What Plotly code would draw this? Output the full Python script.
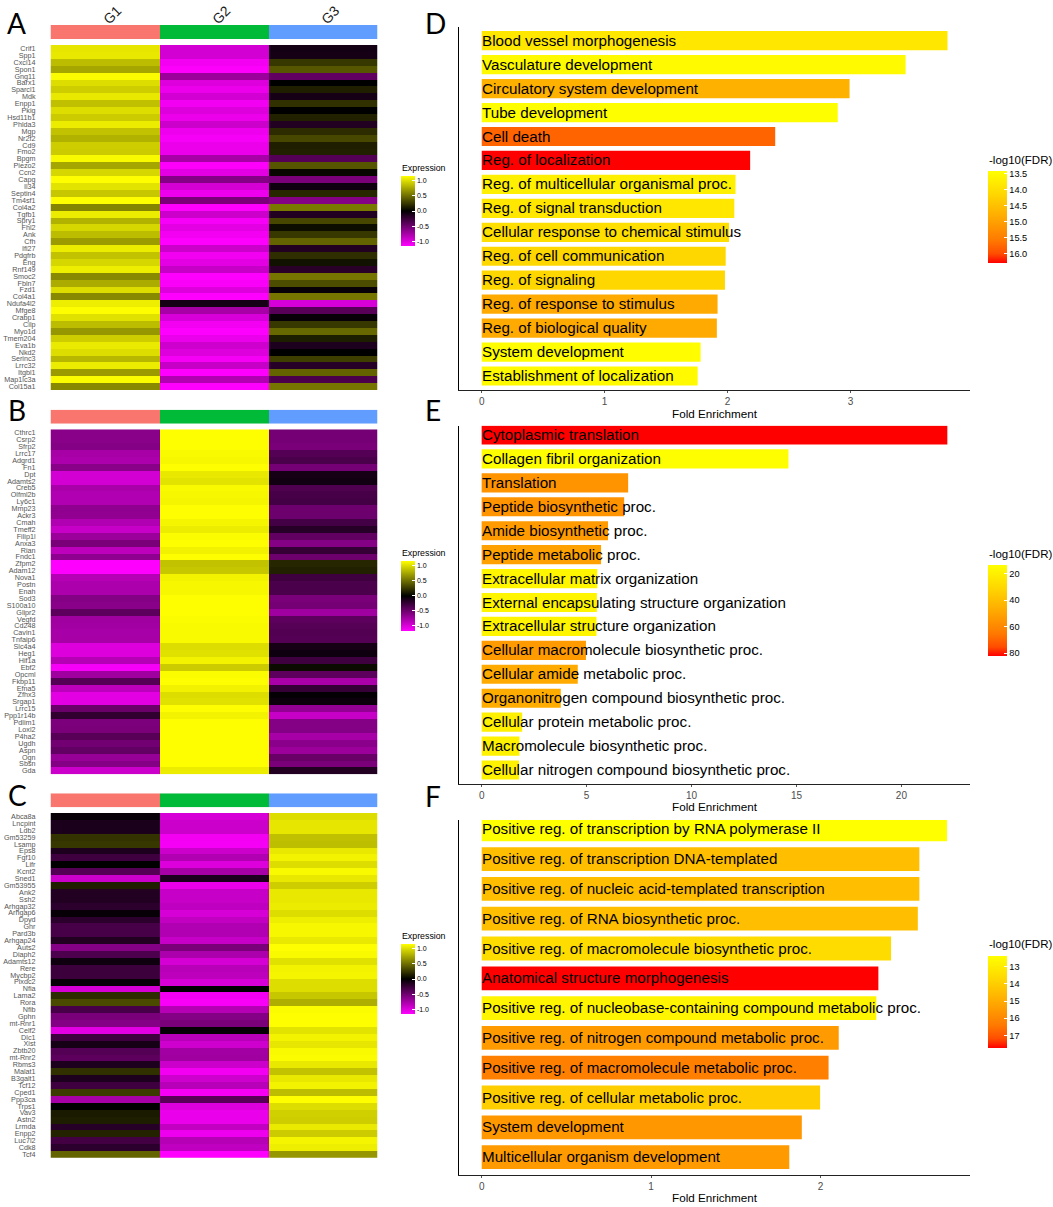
import plotly.graph_objects as go

W = 1053
H = 1207

GROUPS = ["G1", "G2", "G3"]

# --- heatmap A ---
genes_a = ["Crif1", "Spp1", "Cxcl14", "Spon1", "Gng11", "Barx1", "Sparcl1", "Mdk", "Enpp1", "Pkig",
           "Hsd11b1", "Phlda3", "Mgp", "Nr2f2", "Cd9", "Fmo2", "Bpgm", "Piezo2", "Ccn2", "Capg",
           "Il34", "Septin4", "Tm4sf1", "Col4a2", "Tgfb1", "Spry1", "Fhl2", "Ank", "Cfh", "Ifi27",
           "Pdgfrb", "Eng", "Rnf149", "Smoc2", "Fbln7", "Fzd1", "Col4a1", "Ndufa4l2", "Mfge8", "Crabp1",
           "Cilp", "Myo1d", "Tmem204", "Eva1b", "Nkd2", "Serinc3", "Lrrc32", "Itgbl1", "Map1lc3a", "Col15a1"]
a_g1 = [1.04, 1.05, 0.85, 0.75, 1.14, 1.0, 0.93, 1.05, 0.87, 1.0,
        0.92, 1.07, 0.88, 0.8, 0.93, 0.92, 1.13, 0.75, 0.97, 1.15,
        1.03, 0.9, 1.15, 0.6, 1.07, 0.8, 0.97, 0.85, 0.7, 1.07,
        0.88, 0.97, 1.08, 0.62, 0.78, 1.0, 0.62, 1.08, 1.15, 1.02,
        0.85, 0.68, 0.93, 1.06, 1.0, 0.83, 1.07, 0.7, 1.14, 0.62]
a_g2 = [-0.95, -0.95, -1.1, -1.14, -0.7, -1.0, -1.07, -0.95, -1.09, -1.0,
        -1.07, -0.92, -1.08, -1.12, -1.07, -1.07, -0.75, -1.14, -1.03, -0.6,
        -0.96, -1.08, -0.55, -1.15, -0.92, -1.12, -1.03, -1.1, -1.15, -0.92,
        -1.09, -1.03, -0.9, -1.15, -1.13, -1.0, -1.15, -0.1, -0.75, -0.98,
        -1.1, -1.15, -1.06, -0.93, -1.0, -1.11, -0.9, -1.15, -0.8, -1.15]
a_g3 = [-0.09, -0.1, 0.25, 0.39, -0.44, 0.0, 0.14, -0.1, 0.22, 0.0,
        0.15, -0.15, 0.2, 0.32, 0.14, 0.15, -0.38, 0.39, 0.03, -0.55,
        -0.07, 0.18, -0.6, 0.55, -0.15, 0.32, 0.06, 0.25, 0.45, -0.15,
        0.21, 0.08, -0.18, 0.53, 0.35, -0.03, 0.53, -0.98, -0.4, -0.03,
        0.25, 0.47, 0.13, -0.13, 0.0, 0.28, -0.17, 0.45, -0.34, 0.53]

# --- heatmap B ---
genes_b = ["Cthrc1", "Csrp2", "Sfrp2", "Lrrc17", "Adgrd1", "Fn1", "Dpt", "Adamts2", "Creb5", "Olfml2b",
           "Ly6c1", "Mmp23", "Ackr3", "Cmah", "Tmeff2", "Filip1l", "Anxa3", "Rian", "Fndc1", "Zfpm2",
           "Adam12", "Nova1", "Postn", "Enah", "Sod3", "S100a10", "Glipr2", "Vegfd", "Cd248", "Cavin1",
           "Tnfaip6", "Slc4a4", "Heg1", "Hif1a", "Ebf2", "Opcml", "Fkbp11", "Efna5", "Zfhx3", "Srgap1",
           "Lrrc15", "Ppp1r14b", "Pdlim1", "Loxl2", "P4ha2", "Ugdh", "Aspn", "Ogn", "Sbsn", "Gda"]
b_g1 = [-0.62, -0.62, -0.6, -0.75, -0.78, -0.62, -0.95, -0.95, -0.77, -0.8,
        -0.8, -0.65, -0.66, -0.8, -0.9, -0.7, -0.55, -0.85, -0.65, -1.15,
        -1.15, -0.82, -0.78, -0.78, -0.6, -0.62, -0.42, -0.72, -0.74, -0.76,
        -0.75, -1.0, -1.0, -0.82, -1.12, -0.72, -0.38, -0.85, -1.03, -1.03,
        -0.48, -0.22, -0.56, -0.55, -0.4, -0.52, -0.45, -0.68, -0.6, -0.92]
b_g2 = [1.15, 1.15, 1.15, 1.13, 1.12, 1.15, 1.05, 1.03, 1.13, 1.12,
        1.11, 1.15, 1.15, 1.11, 1.07, 1.14, 1.15, 1.09, 1.15, 0.88,
        0.9, 1.1, 1.12, 1.12, 1.15, 1.15, 1.15, 1.14, 1.13, 1.13,
        1.13, 1.0, 1.02, 1.1, 0.92, 1.14, 1.15, 1.09, 1.0, 1.02,
        1.15, 1.1, 1.15, 1.15, 1.15, 1.15, 1.15, 1.15, 1.15, 1.07]
b_g3 = [-0.53, -0.53, -0.55, -0.38, -0.34, -0.53, -0.1, -0.08, -0.36, -0.32,
        -0.31, -0.5, -0.49, -0.31, -0.17, -0.44, -0.6, -0.24, -0.5, 0.17,
        0.15, -0.28, -0.34, -0.34, -0.55, -0.53, -0.72, -0.42, -0.39, -0.37,
        -0.38, -0.1, -0.07, -0.28, 0.05, -0.42, -0.77, -0.24, -0.02, -0.05,
        -0.67, -0.9, -0.6, -0.6, -0.75, -0.63, -0.7, -0.47, -0.55, -0.15]

# --- heatmap C ---
genes_c = ["Abca8a", "Lncpint", "Ldb2", "Gm53259", "Lsamp", "Eps8", "Fgf10", "Lifr", "Kcnt2", "Sned1",
           "Gm53955", "Ank2", "Ssh2", "Arhgap32", "Arhgap6", "Dpyd", "Ghr", "Pard3b", "Arhgap24", "Auts2",
           "Diaph2", "Adamts12", "Rere", "Mycbp2", "Plxdc2", "Nfia", "Lama2", "Rora", "Nfib", "Gphn",
           "mt-Rnr1", "Celf2", "Dlc1", "Xist", "Zbtb20", "mt-Rnr2", "Rbms3", "Malat1", "B3galt1", "Tcf12",
           "Cped1", "Ppp3ca", "Trps1", "Vav3", "Astn2", "Lrmda", "Enpp2", "Luc7l2", "Cdk8", "Tcf4"]
c_g1 = [-0.03, -0.12, -0.12, 0.23, 0.25, -0.13, -0.28, 0.0, -0.38, -0.92,
        0.14, -0.15, -0.15, -0.2, -0.03, -0.2, -0.32, -0.32, -0.15, -0.6,
        -0.35, -0.07, -0.27, -0.27, -0.03, -0.97, 0.2, 0.34, -0.32, -0.55,
        -0.6, -1.03, -0.28, -0.1, -0.38, -0.42, -0.13, 0.22, -0.13, -0.28,
        0.27, -0.75, 0.0, 0.12, 0.13, -0.17, 0.16, -0.3, -0.2, 0.45]
c_g2 = [-0.97, -0.92, -0.92, -1.1, -1.11, -0.92, -0.8, -1.0, -0.75, -0.13,
        -1.07, -0.9, -0.9, -0.87, -0.97, -0.88, -0.8, -0.8, -0.9, -0.55,
        -0.78, -0.96, -0.84, -0.85, -0.97, 0.0, -1.1, -1.13, -0.82, -0.6,
        -0.55, -0.02, -0.84, -0.93, -0.74, -0.72, -0.92, -1.1, -0.93, -0.84,
        -1.11, -0.4, -1.0, -1.06, -1.06, -0.88, -1.08, -0.82, -0.87, -1.15]
c_g3 = [1.0, 1.04, 1.04, 0.87, 0.86, 1.05, 1.1, 1.0, 1.13, 1.05,
        0.93, 1.05, 1.05, 1.07, 1.0, 1.08, 1.12, 1.12, 1.05, 1.15,
        1.13, 1.02, 1.1, 1.11, 1.0, 1.0, 0.9, 0.79, 1.14, 1.15,
        1.15, 1.03, 1.1, 1.04, 1.13, 1.14, 1.05, 0.88, 1.05, 1.1,
        0.85, 1.15, 1.0, 0.94, 0.93, 1.06, 0.92, 1.11, 1.08, 0.68]

# --- enrichment D ---
terms_d = ["Blood vessel morphogenesis", "Vasculature development", "Circulatory system development",
           "Tube development", "Cell death", "Reg. of localization", "Reg. of multicellular organismal proc.",
           "Reg. of signal transduction", "Cellular response to chemical stimulus", "Reg. of cell communication",
           "Reg. of signaling", "Reg. of response to stimulus", "Reg. of biological quality",
           "System development", "Establishment of localization"]
fold_d = [3.79, 3.449, 2.993, 2.897, 2.388, 2.184, 2.065, 2.055, 2.012, 1.985, 1.979, 1.919, 1.913, 1.781, 1.757]
fdr_d = [13.84, 13.5, 14.73, 13.42, 15.77, 16.28, 13.7, 13.84, 13.98, 14.13, 14.12, 14.85, 14.85, 13.45, 13.5]

# --- enrichment E ---
terms_e = ["Cytoplasmic translation", "Collagen fibril organization", "Translation", "Peptide biosynthetic proc.",
           "Amide biosynthetic proc.", "Peptide metabolic proc.", "Extracellular matrix organization",
           "External encapsulating structure organization", "Extracellular structure organization",
           "Cellular macromolecule biosynthetic proc.", "Cellular amide metabolic proc.",
           "Organonitrogen compound biosynthetic proc.", "Cellular protein metabolic proc.",
           "Macromolecule biosynthetic proc.", "Cellular nitrogen compound biosynthetic proc."]
fold_e = [22.19, 14.62, 6.98, 6.79, 6.02, 5.69, 5.51, 5.49, 5.47, 4.97, 4.58, 3.77, 1.93, 1.8, 1.78]
fdr_e = [82, 13.5, 56, 56, 53, 51, 17, 17.5, 17.5, 53, 47.6, 47, 20, 19, 19]

# --- enrichment F ---
terms_f = ["Positive reg. of transcription by RNA polymerase II", "Positive reg. of transcription DNA-templated",
           "Positive reg. of nucleic acid-templated transcription", "Positive reg. of RNA biosynthetic proc.",
           "Positive reg. of macromolecule biosynthetic proc.", "Anatomical structure morphogenesis",
           "Positive reg. of nucleobase-containing compound metabolic proc.",
           "Positive reg. of nitrogen compound metabolic proc.", "Positive reg. of macromolecule metabolic proc.",
           "Positive reg. of cellular metabolic proc.", "System development", "Multicellular organism development"]
fold_f = [2.747, 2.584, 2.584, 2.575, 2.417, 2.342, 2.33, 2.108, 2.048, 1.998, 1.89, 1.816]
fdr_f = [12.35, 14.4, 14.4, 14.42, 13.53, 17.72, 12.67, 15.46, 16.2, 13.96, 15.55, 15.46]

# --- style settings ---
FONT = "Liberation Sans"
HEAT_SCALE = [[0, "#FF00FF"], [0.5, "#000000"], [1, "#FFFF00"]]
ANNO_SCALE = [[0, "#F8766D"], [0.5, "#00BA38"], [1, "#619CFF"]]
# colour runs on -FDR so that the colourbar reads low at the top, like the original
FDR_SCALE = [[0, "#FF0000"], [0.1, "#FF4D00"], [0.25, "#FF7A00"], [0.5, "#FFAA00"], [0.75, "#FFD700"], [1, "#FFFF00"]]
Z_MAX = 1.155


def dom_x(left, right):
    return [left / W, right / W]


def dom_y(top, bottom):
    return [1 - bottom / H, 1 - top / H]


fig = go.Figure()
layout_axes = {}
annotations = []
axis_count = 0


def new_axes(x_dom, y_dom, xopts, yopts):
    global axis_count
    axis_count += 1
    suffix = "" if axis_count == 1 else str(axis_count)
    layout_axes["xaxis" + suffix] = dict(domain=x_dom, anchor="y" + suffix, **xopts)
    layout_axes["yaxis" + suffix] = dict(domain=y_dom, anchor="x" + suffix, **yopts)
    return "x" + suffix, "y" + suffix


def add_text(text, x, y, size, color="#000000", family=FONT, xanchor="left", angle=0, xref="paper", xshift=0):
    x_pos = x / W if xref == "paper" else x
    annotations.append(dict(text=text, x=x_pos, y=1 - y / H, xref=xref, yref="paper", showarrow=False,
                            xanchor=xanchor, yanchor="middle", textangle=angle, borderpad=0, xshift=xshift,
                            font=dict(family=family, size=size, color=color)))


def add_heatmap(genes, g1, g2, g3, anno_top, heat_top, heat_bottom, legend_top):
    hidden = dict(showgrid=False, zeroline=False, showline=False, ticks="", showticklabels=False)
    xa, ya = new_axes(dom_x(50.5, 377.5), dom_y(anno_top, anno_top + 14), hidden, hidden)
    fig.add_trace(go.Heatmap(z=[[0, 1, 2]], x=GROUPS, y=["group"], colorscale=ANNO_SCALE,
                             showscale=False, xaxis=xa, yaxis=ya))

    xb, yb = new_axes(dom_x(50.5, 377.5), dom_y(heat_top, heat_bottom), hidden,
                      dict(showgrid=False, zeroline=False, showline=False, ticks="", autorange="reversed",
                           tickmode="array", tickvals=genes, ticktext=genes, ticklabelstandoff=14,
                           tickfont=dict(family=FONT, size=7.2, color="#555555")))
    z = [[g1[i], g2[i], g3[i]] for i in range(len(genes))]
    fig.add_trace(go.Heatmap(z=z, x=GROUPS, y=genes, colorscale=HEAT_SCALE, zmin=-Z_MAX, zmax=Z_MAX,
                             xaxis=xb, yaxis=yb,
                             colorbar=dict(x=401 / W, xanchor="left", y=1 - legend_top / H, yanchor="top",
                                           lenmode="pixels", len=70, thicknessmode="pixels", thickness=14,
                                           xpad=0, ypad=0, outlinewidth=0, tickmode="array",
                                           tickvals=[-1, -0.5, 0, 0.5, 1],
                                           ticktext=["-1.0", "-0.5", "0.0", "0.5", "1.0"],
                                           ticks="inside", ticklen=3, tickcolor="white", tickwidth=0.7,
                                           tickfont=dict(family=FONT, size=7, color="#000000"))))
    add_text("Expression", 401, legend_top - 8, 8.8)
    return xa


def add_enrichment(terms, fold, fdr, top, bottom, first_center, spacing, x_range, tickvals,
                   fdr_ticks, fdr_labels, fdr_range, legend_top, legend_len, title_y):
    y_top = (top - first_center) / spacing
    y_bottom = (bottom - first_center) / spacing
    xa, ya = new_axes(dom_x(459, 970), dom_y(top, bottom),
                      dict(range=x_range, tickmode="array", tickvals=tickvals, showgrid=False, zeroline=False,
                           showline=True, linecolor="#222222", linewidth=1.4, ticks="outside", ticklen=2,
                           tickcolor="#555555", tickfont=dict(family=FONT, size=10, color="#4d4d4d")),
                      dict(type="category", categoryorder="array", categoryarray=terms,
                           range=[y_bottom, y_top], showgrid=False, zeroline=False, showticklabels=False,
                           ticks="", showline=True, linecolor="#000000", linewidth=1.4))
    fig.add_trace(go.Bar(x=fold, y=terms, orientation="h", xaxis=xa, yaxis=ya,
                         marker=dict(color=[-v for v in fdr], colorscale=FDR_SCALE,
                                     cmin=-fdr_range[1], cmax=-fdr_range[0], line=dict(width=0),
                                     colorbar=dict(x=988 / W, xanchor="left", y=1 - legend_top / H, yanchor="top",
                                                   lenmode="pixels", len=legend_len, thicknessmode="pixels",
                                                   thickness=19, xpad=0, ypad=0, outlinewidth=0,
                                                   tickmode="array", tickvals=[-v for v in fdr_ticks],
                                                   ticktext=fdr_labels,
                                                   ticks="inside", ticklen=3, tickcolor="white", tickwidth=0.7,
                                                   tickfont=dict(family=FONT, size=9.2, color="#000000")))))
    # term names sit on the bars, starting at zero
    for term in terms:
        annotations.append(dict(text=term, x=0, y=term, xref=xa, yref=ya, showarrow=False, xanchor="left",
                                yanchor="middle", borderpad=0, borderwidth=0, yshift=0.5,
                                font=dict(family=FONT, size=15.2, color="#000000")))
    add_text("Fold Enrichment", 714.5, bottom + 23, 11.7, xanchor="center")
    add_text("-log10(FDR)", 988, title_y, 11.5)


# --- heatmaps ---
first_x = add_heatmap(genes_a, a_g1, a_g2, a_g3, 25, 45, 390, 176)
add_heatmap(genes_b, b_g1, b_g2, b_g3, 409.7, 429.3, 774.3, 560.5)
add_heatmap(genes_c, c_g1, c_g2, c_g3, 793.3, 813, 1157.7, 944)

for group in GROUPS:
    add_text(group, group, 15, 14, color="#1a1a1a", xanchor="center", angle=-45, xref=first_x, xshift=7)

# --- enrichment bars ---
add_enrichment(terms_d, fold_d, fdr_d, 26.7, 390, 40.7, 23.95, [-0.185, 3.973], [0, 1, 2, 3],
               [13.5, 14, 14.5, 15, 15.5, 16], ["13.5", "14.0", "14.5", "15.0", "15.5", "16.0"],
               [13.41, 16.28], 170.7, 92, 160)
add_enrichment(terms_e, fold_e, fdr_e, 425.7, 784, 435, 23.93, [-1.08, 23.27], [0, 5, 10, 15, 20],
               [20, 40, 60, 80], ["20", "40", "60", "80"], [13.2, 82], 564.7, 91.3, 554)
add_enrichment(terms_f, fold_f, fdr_f, 820, 1174.7, 829.3, 29.8, [-0.134, 2.883], [0, 1, 2],
               [13, 14, 15, 16, 17], ["13", "14", "15", "16", "17"], [12.35, 17.72], 955.7, 91.6, 944)

# --- panel letters ---
for letter, x, y in [("A", 6, 22.7), ("B", 7, 410), ("C", 6.7, 795),
                     ("D", 424, 23), ("E", 424, 410), ("F", 424, 795.7)]:
    add_text(letter, x, y, 28, family="Lato")

fig.update_layout(width=W, height=H, margin=dict(l=0, r=0, t=0, b=0), paper_bgcolor="white",
                  plot_bgcolor="white", showlegend=False, bargap=0.2, annotations=annotations,
                  template="none", **layout_axes)

fig.write_html("out.html", config={"displayModeBar": False}, post_script="document.body.style.margin='0';")
